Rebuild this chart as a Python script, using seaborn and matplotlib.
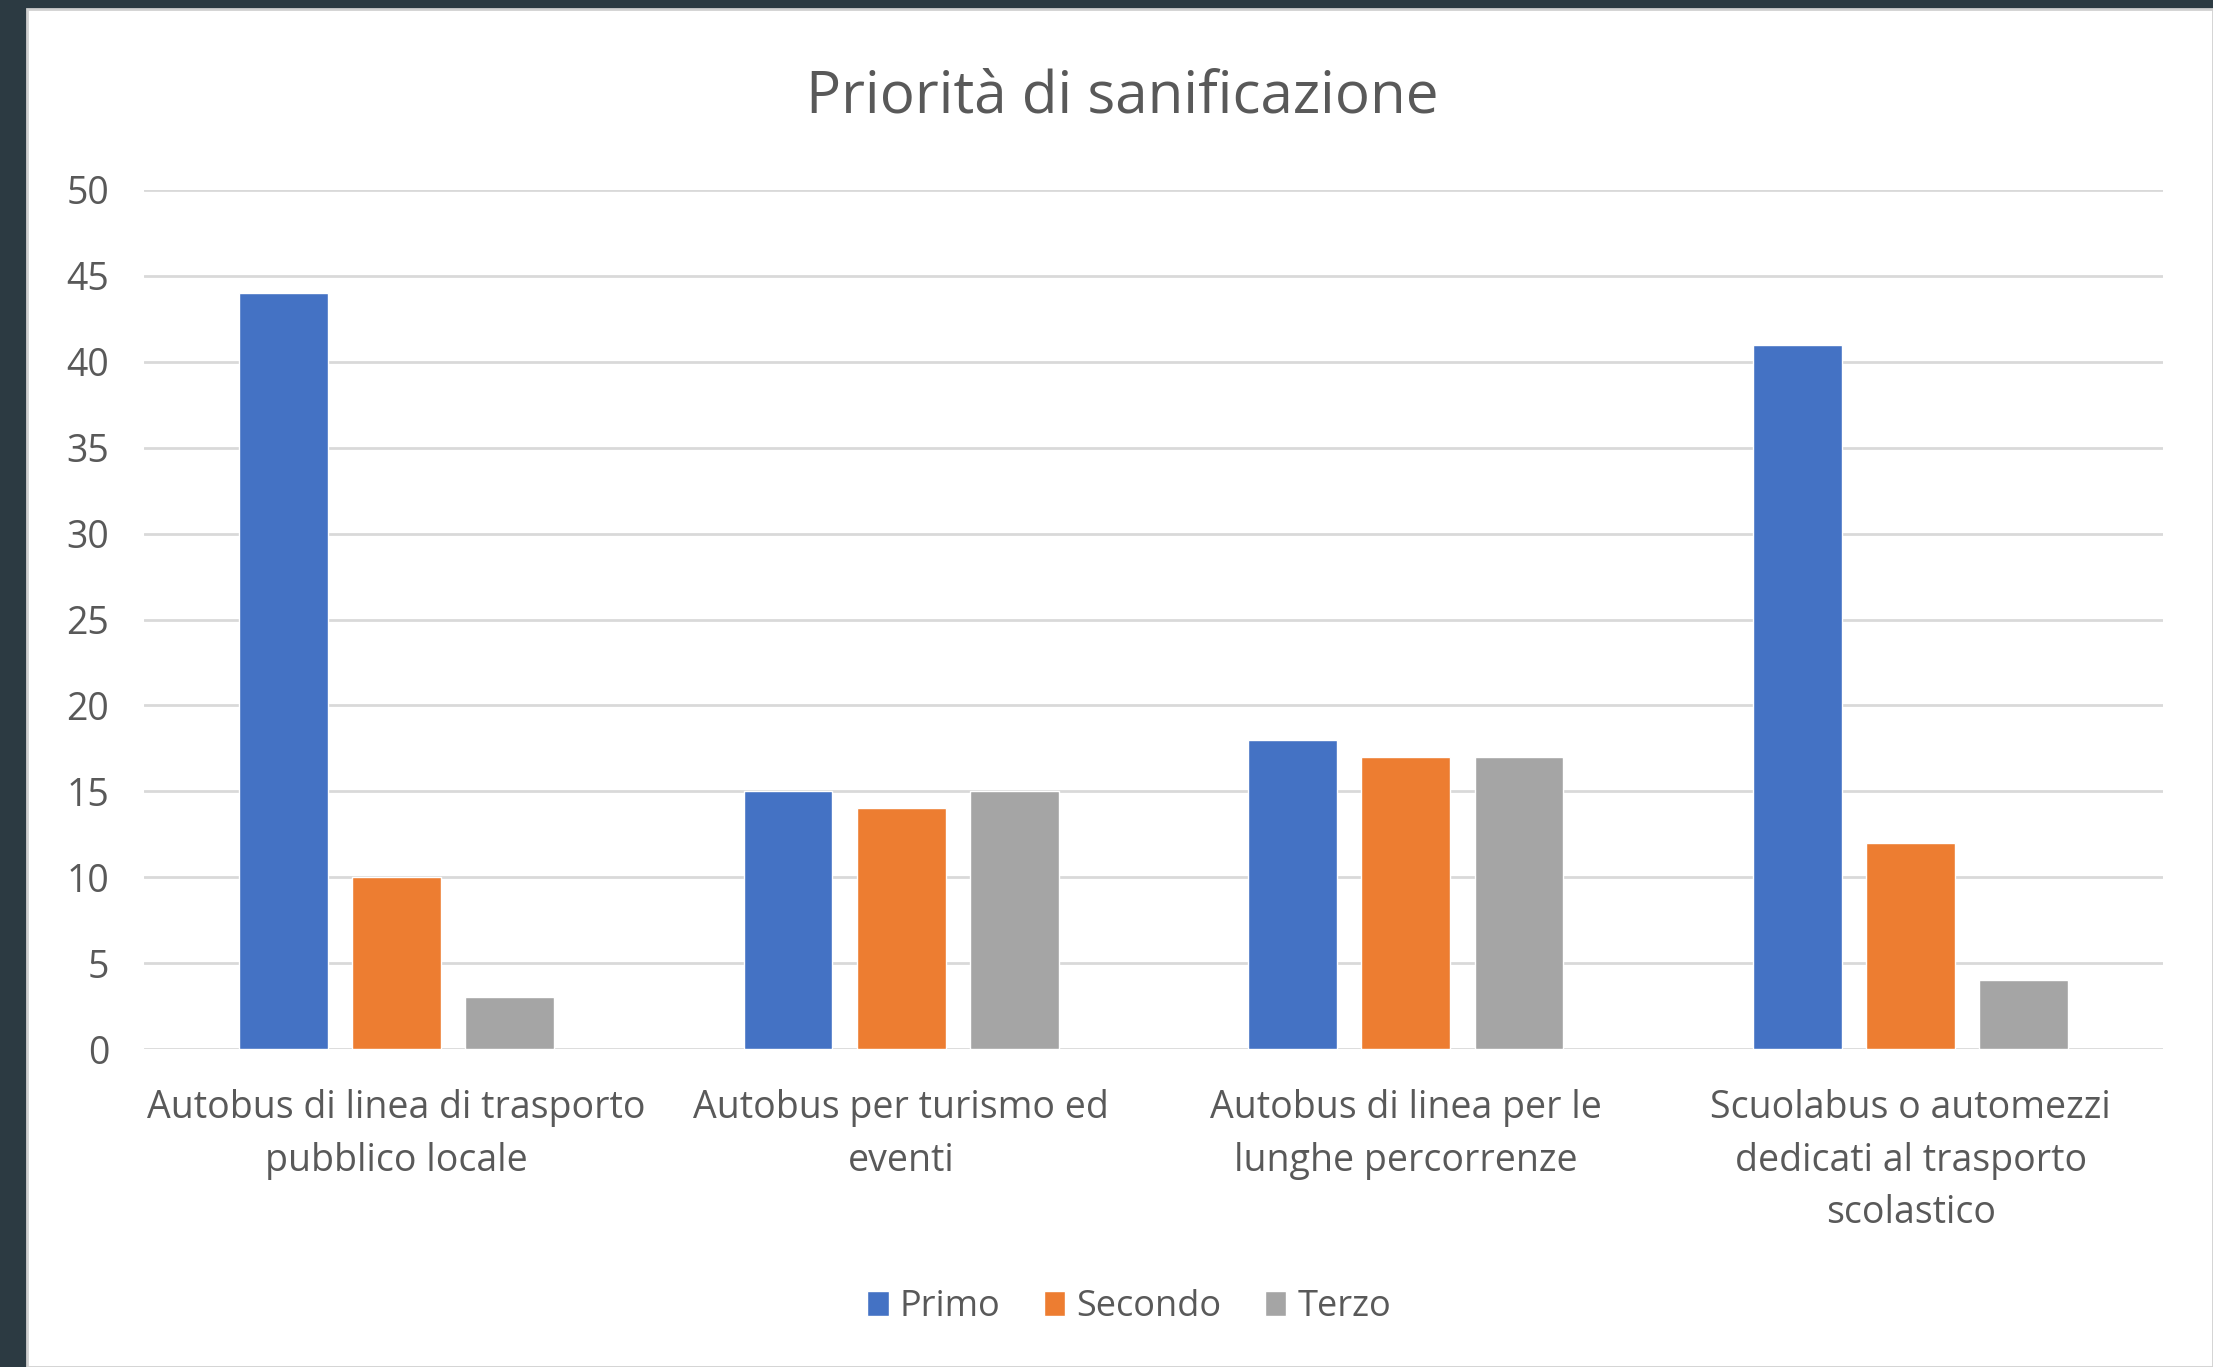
import pandas as pd
import numpy as np
import matplotlib
matplotlib.use("Agg")
import matplotlib.pyplot as plt
import matplotlib.patches as mpatches
import seaborn as sns

# --- data ---
categories = [
    "Autobus di linea di trasporto\npubblico locale",
    "Autobus per turismo ed\neventi",
    "Autobus di linea per le\nlunghe percorrenze",
    "Scuolabus o automezzi\ndedicati al trasporto\nscolastico",
]
series = ["Primo", "Secondo", "Terzo"]
primo = [44, 15, 18, 41]
secondo = [10, 14, 17, 12]
terzo = [3, 15, 17, 4]
y_ticks = [0, 5, 10, 15, 20, 25, 30, 35, 40, 45, 50]

colors = ["#4472C4", "#ED7D31", "#A5A5A5"]
text_color = "#595959"
grid_color = "#D9D9D9"

df = pd.DataFrame({
    "Categoria": categories * 3,
    "Serie": [s for s in series for _ in categories],
    "Valore": primo + secondo + terzo,
})

sns.set_style("white")
plt.rcParams["font.family"] = ["Open Sans", "DejaVu Sans"]

fig = plt.figure(figsize=(22.13, 13.67), dpi=100)
fig.patch.set_facecolor("#2C3A42")

# white chart panel (screenshot frame)
W, H = 2213, 1367
panel = mpatches.Rectangle((27 / W, 0), 1 - 27 / W, 1 - 9 / H,
                           transform=fig.transFigure, facecolor="white",
                           edgecolor="#D0D0D0", linewidth=2, zorder=-10)
fig.patches.append(panel)

ax = fig.add_axes([144 / W, 1 - 1049 / H, (2163 - 144) / W, (1049 - 190) / H])
ax.set_facecolor("none")
ax.set_zorder(1)

sns.barplot(data=df, x="Categoria", y="Valore", hue="Serie",
            palette=colors, width=0.672, gap=0.214, saturation=1,
            ax=ax, zorder=3)

ax.set_xlim(-0.5, 3.5)
ax.set_ylim(0, 50)
ax.set_yticks(y_ticks)
ax.yaxis.grid(True, color=grid_color, linewidth=2.0, zorder=0)
ax.set_axisbelow(True)
for s in ax.spines.values():
    s.set_visible(False)
ax.tick_params(axis="both", length=0, labelsize=27, labelcolor=text_color)
ax.tick_params(axis="y", pad=25)
ax.tick_params(axis="x", pad=29)
for lab in ax.get_xticklabels():
    lab.set_linespacing(1.5)
ax.set_xlabel("")
ax.set_ylabel("")

handles, labels = ax.get_legend_handles_labels()
ax.get_legend().remove()
fig.legend(handles, labels, loc="center", bbox_to_anchor=(1129 / W, 1 - 1307 / H),
           ncol=3, frameon=False, fontsize=26, labelcolor=text_color,
           handlelength=0.6, handleheight=0.7, handletextpad=0.3,
           columnspacing=1.2)

fig.text(1122 / W, 1 - 97 / H, "Priorità di sanificazione", ha="center",
         va="center", fontsize=42, color=text_color)

fig.savefig("out.png", dpi=100, facecolor=fig.get_facecolor())
